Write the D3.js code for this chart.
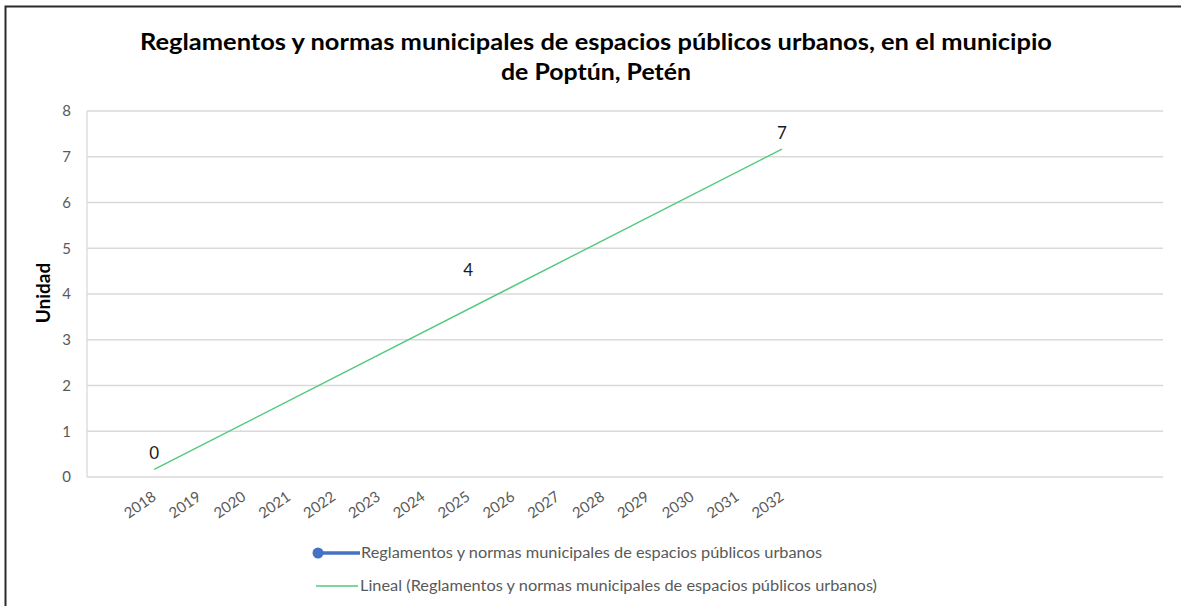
<!DOCTYPE html>
<html>
<head>
<meta charset="utf-8">
<script src="https://cdn.jsdelivr.net/npm/d3@7"></script>
<style>
html,body{margin:0;padding:0;background:#fff;}
svg{display:block;font-family:Lato,"Open Sans",sans-serif;}
</style>
</head>
<body>
<svg id="chart" width="1181" height="606"></svg>
<script>
const titleLines = ["Reglamentos y normas municipales de espacios públicos urbanos, en el municipio", "de Poptún, Petén"];
const categories = ["", "2018","2019","2020","2021","2022","2023","2024","2025","2026","2027","2028","2029","2030","2031","2032","","","","","","","",""];
const pointYears = ["2018","2025","2032"];
const pointValues = [0, 4, 7];
const trendYears = ["2018","2032"];
const trendValues = [0.1667, 7.1667];
const yTicks = [0,1,2,3,4,5,6,7,8];
const yLabel = "Unidad";
const legendLabels = ["Reglamentos y normas municipales de espacios públicos urbanos", "Lineal (Reglamentos y normas municipales de espacios públicos urbanos)"];

const svg = d3.select("#chart");
const plot = {left: 87, right: 1163, top: 111, bottom: 477};

// border
svg.append("path").attr("d", "M5.5,606 L5.5,6.5 L1181,6.5").attr("fill","none").attr("stroke","#2b2b2b").attr("stroke-width",2);

// title
svg.append("text").attr("x",596).attr("y",50).attr("text-anchor","middle")
  .attr("font-size",22).attr("font-weight","bold").attr("fill","#000")
  .attr("textLength",912).attr("lengthAdjust","spacingAndGlyphs").text(titleLines[0]);
svg.append("text").attr("x",596).attr("y",80).attr("text-anchor","middle")
  .attr("font-size",22).attr("font-weight","bold").attr("fill","#000")
  .attr("textLength",190).attr("lengthAdjust","spacingAndGlyphs").text(titleLines[1]);

const x = d3.scaleBand().domain(categories.map((c,i)=>i)).range([plot.left, plot.right]);
const xc = yr => x(categories.indexOf(yr)) + x.bandwidth()/2;
const y = d3.scaleLinear().domain([0,8]).range([plot.bottom, plot.top]);

// gridlines
svg.append("g").selectAll("line").data(yTicks).join("line")
  .attr("x1",plot.left).attr("x2",plot.right)
  .attr("y1",d=>y(d)).attr("y2",d=>y(d))
  .attr("stroke","#d9d9d9").attr("stroke-width",1.3);
svg.append("line").attr("x1",plot.left).attr("x2",plot.left).attr("y1",plot.top).attr("y2",plot.bottom)
  .attr("stroke","#d9d9d9").attr("stroke-width",1.3);

// y axis
const yAxis = d3.axisLeft(y).tickValues(yTicks).tickSize(0).tickPadding(0);
const gy = svg.append("g").attr("transform",`translate(${plot.left-16},0)`).call(yAxis);
gy.select(".domain").remove();
gy.selectAll("text").attr("font-size",15).attr("fill","#595959").attr("font-family","Lato,'Open Sans',sans-serif");

svg.append("text").attr("transform","translate(50,293) rotate(-90)").attr("text-anchor","middle")
  .attr("font-size",19).attr("font-weight","bold").attr("fill","#000").text(yLabel);

// x axis labels
const xAxis = d3.axisBottom(x).tickFormat(i=>categories[i]).tickSize(0).tickPadding(0);
const gx = svg.append("g").attr("transform",`translate(0,${plot.bottom})`).call(xAxis);
gx.select(".domain").remove();
gx.selectAll("text")
  .attr("font-size",15).attr("fill","#595959").attr("font-family","Lato,'Open Sans',sans-serif")
  .attr("text-anchor","end").attr("dy",0).attr("y",0)
  .attr("transform","translate(3,22) rotate(-35)");

// trend line
const line = d3.line().x(d=>xc(d[0])).y(d=>y(d[1]));
svg.append("path").datum(trendYears.map((t,i)=>[t,trendValues[i]]))
  .attr("d",line).attr("fill","none").attr("stroke","#52c97c").attr("stroke-width",1.4);

// data labels
svg.append("g").selectAll("text").data(pointYears.map((t,i)=>[t,pointValues[i]])).join("text")
  .attr("x",d=>xc(d[0])).attr("y",d=>y(d[1])-18).attr("text-anchor","middle")
  .attr("font-size",17).attr("fill","#1a1a1a").text(d=>d[1]);

// legend
const lg = svg.append("g");
lg.append("line").attr("x1",318).attr("x2",360).attr("y1",553).attr("y2",553).attr("stroke","#4472c4").attr("stroke-width",3.5);
lg.append("circle").attr("cx",318).attr("cy",553).attr("r",5.5).attr("fill","#4472c4");
lg.append("text").attr("x",361).attr("y",558).attr("font-size",14.5).attr("fill","#595959")
  .attr("textLength",461).attr("lengthAdjust","spacingAndGlyphs").text(legendLabels[0]);
lg.append("line").attr("x1",316).attr("x2",358).attr("y1",586).attr("y2",586).attr("stroke","#52c97c").attr("stroke-width",1.4);
lg.append("text").attr("x",360).attr("y",591).attr("font-size",14.5).attr("fill","#595959")
  .attr("textLength",517).attr("lengthAdjust","spacingAndGlyphs").text(legendLabels[1]);
</script>
</body>
</html>
